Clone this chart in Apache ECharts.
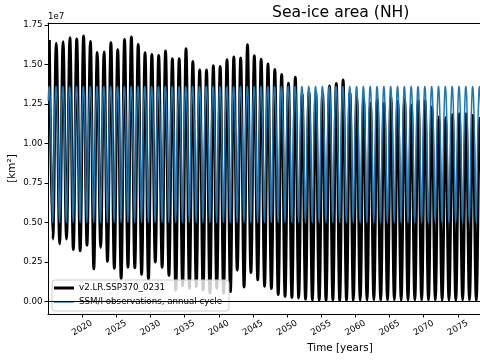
<!DOCTYPE html>
<html><head><meta charset="utf-8">
<script src="https://cdn.jsdelivr.net/npm/echarts@6/dist/echarts.min.js"></script>
<style>html,body{margin:0;padding:0;background:#fff}#c{width:480px;height:360px}</style>
</head><body><div id="c"></div>
<script>
// ---- data (units of 1e7 km^2) ----
const years = [2015,2016,2017,2018,2019,2020,2021,2022,2023,2024,2025,2026,2027,2028,2029,2030,2031,2032,2033,2034,2035,2036,2037,2038,2039,2040,2041,2042,2043,2044,2045,2046,2047,2048,2049,2050,2051,2052,2053,2054,2055,2056,2057,2058,2059,2060,2061,2062,2063,2064,2065,2066,2067,2068,2069,2070,2071,2072,2073,2074,2075,2076,2077,2078];
// annual maximum (March) of the model run
const annualMax = [1.655,1.634,1.644,1.670,1.661,1.680,1.646,1.576,1.579,1.638,1.593,1.659,1.674,1.627,1.574,1.564,1.557,1.585,1.536,1.536,1.600,1.519,1.465,1.465,1.492,1.488,1.530,1.548,1.541,1.625,1.555,1.534,1.503,1.469,1.437,1.382,1.420,1.312,1.325,1.323,1.315,1.365,1.380,1.403,1.320,1.295,1.290,1.253,1.284,1.257,1.295,1.268,1.284,1.244,1.272,1.272,1.232,1.168,1.164,1.183,1.189,1.189,1.179,1.160];
// annual minimum (September) of the model run
const annualMin = [0.395,0.365,0.395,0.330,0.322,0.357,0.207,0.342,0.254,0.211,0.146,0.218,0.214,0.172,0.142,0.250,0.217,0.165,0.073,0.100,0.084,0.095,0.073,0.053,0.084,0.053,0.063,0.200,0.092,0.184,0.137,0.097,0.082,0.044,0.033,0.026,0.022,0.016,0.012,0.010,0.009,0.011,0.008,0.010,0.009,0.008,0.010,0.011,0.008,0.009,0.010,0.008,0.009,0.010,0.008,0.009,0.010,0.008,0.009,0.008,0.010,0.009,0.008,0.009];
// SSM/I observed monthly climatology, Jan..Dec
const obsCycle = [1.27,1.35,1.36,1.30,1.18,1.00,0.76,0.56,0.50,0.66,0.92,1.14];
const xTicks = [2020,2025,2030,2035,2040,2045,2050,2055,2060,2065,2070,2075];
const yTicks = [0,0.25,0.5,0.75,1.0,1.25,1.5,1.75];
const modelName = 'v2.LR.SSP370_0231';
const obsName = 'SSM/I observations, annual cycle';

const modelData = [];
years.forEach((y, i) => {
  modelData.push([y + 2.5/12, annualMax[i]]);
  modelData.push([y + 8.5/12, annualMin[i]]);
});
const obsData = [];
years.forEach(y => obsCycle.forEach((v, m) => obsData.push([y + (m + 0.5)/12, v])));

const FONT = 'DejaVu Sans';
const TICK_FS = 8.7;
const chart = echarts.init(document.getElementById('c'), null, {renderer: 'canvas'});
chart.setOption({
  animation: false,
  textStyle: {fontFamily: FONT},
  title: {
    text: 'Sea-ice area (NH)', left: 272, top: 5, padding: 0,
    textStyle: {fontSize: 15.6, fontWeight: 'normal', color: '#000', fontFamily: FONT}
  },
  grid: {left: 48, right: 0, top: 23, bottom: 46, show: false},
  xAxis: [{
    type: 'value', min: 2015, max: 2078.25,
    axisLine: {show: true, onZero: false, lineStyle: {color: '#000', width: 1}},
    axisTick: {show: true, customValues: xTicks, length: 3.5, lineStyle: {color: '#000'}},
    axisLabel: {customValues: xTicks, formatter: v => String(v), rotate: 30, align: 'center', verticalAlign: 'middle', margin: 14, fontSize: TICK_FS, color: '#000', fontFamily: FONT},
    splitLine: {show: false}
  }, {
    type: 'value', min: 2015, max: 2078.25, position: 'top',
    axisLine: {show: true, onZero: false, lineStyle: {color: '#000', width: 1}},
    axisTick: {show: false}, axisLabel: {show: false}, splitLine: {show: false}
  }],
  yAxis: {
    type: 'value', min: -0.078, max: 1.762,
    axisLine: {show: true, onZero: false, lineStyle: {color: '#000', width: 1}},
    axisTick: {show: true, customValues: yTicks, length: 3.5, lineStyle: {color: '#000'}},
    axisLabel: {customValues: yTicks, formatter: v => v.toFixed(2), margin: 5.5, fontSize: TICK_FS, color: '#000', fontFamily: FONT},
    splitLine: {show: false}
  },
  legend: {
    orient: 'vertical', left: 52, top: 280, padding: [3, 7, 4, 2], itemGap: 4,
    itemWidth: 20, itemHeight: 10,
    backgroundColor: 'rgba(255,255,255,0.8)', borderColor: '#cccccc', borderWidth: 1, borderRadius: 3,
    textStyle: {fontSize: TICK_FS, color: '#000', lineHeight: 10, fontFamily: FONT},
    data: [
      {name: modelName, icon: 'path://M0,0L20,0L20,3L0,3Z'},
      {name: obsName, icon: 'path://M0,0L20,0L20,1.5L0,1.5Z'}
    ]
  },
  series: [
    {
      name: modelName, type: 'line', data: modelData, symbol: 'none', smooth: 0.4,
      lineStyle: {color: '#000', width: 2.8}, itemStyle: {color: '#000'}, z: 2,
      markLine: {silent: true, symbol: 'none', label: {show: false},
        lineStyle: {color: '#000', width: 1, type: 'solid'}, data: [{yAxis: 0}]}
    },
    {
      name: obsName, type: 'line', data: obsData, symbol: 'none', smooth: 0.3,
      lineStyle: {color: '#1f77b4', width: 1.5}, itemStyle: {color: '#1f77b4'}, z: 3
    }
  ],
  graphic: [
    {type: 'text', left: 48, top: 12, style: {text: '1e7', fontSize: TICK_FS, fill: '#000', fontFamily: FONT}},
    {type: 'text', x: 12, y: 168.5, rotation: Math.PI/2, style: {text: '[km²]', fontSize: 10.4, fill: '#000', align: 'center', verticalAlign: 'middle', fontFamily: FONT}},
    {type: 'text', x: 340, y: 348, style: {text: 'Time [years]', fontSize: 10.4, fill: '#000', align: 'center', verticalAlign: 'middle', fontFamily: FONT}}
  ]
});
</script></body></html>
